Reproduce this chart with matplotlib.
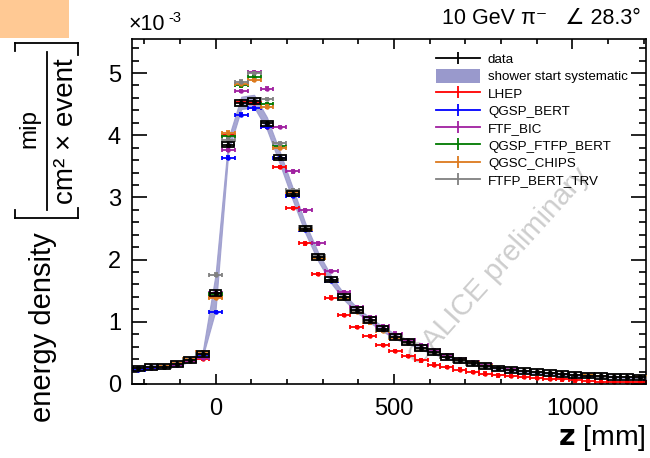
import numpy as np
import matplotlib
matplotlib.use("Agg")
import matplotlib.pyplot as plt
from matplotlib.lines import Line2D
from matplotlib.patches import Patch, Rectangle
from matplotlib.ticker import MultipleLocator

plt.rcParams['font.family'] = ['Liberation Sans', 'DejaVu Sans']

# longitudinal bins along z [mm]; bin index k, centre k*BIN_WIDTH
BIN_WIDTH = 36.0
bin_index = list(range(-6, 34))

# energy density in units of 1e-3 mip / (cm^2 x event)
data = [0.25, 0.27, 0.28, 0.32, 0.39, 0.48, 1.46, 3.85, 4.52, 4.55,
        4.19, 3.64, 3.06, 2.50, 2.04, 1.68, 1.40, 1.19, 1.03, 0.89,
        0.76, 0.68, 0.58, 0.51, 0.43, 0.38, 0.33, 0.29, 0.25, 0.225,
        0.21, 0.19, 0.175, 0.16, 0.145, 0.135, 0.125, 0.117, 0.11, 0.105]

syst_low = [0.22, 0.24, 0.25, 0.29, 0.36, 0.44, 1.18, 3.74, 4.42, 4.45,
            4.09, 3.54, 2.96, 2.42, 1.97, 1.62, 1.35, 1.15, 0.99, 0.85,
            0.72, 0.65, 0.55, 0.48, 0.41, 0.36, 0.31, 0.27, 0.235, 0.21,
            0.195, 0.175, 0.16, 0.145, 0.13, 0.12, 0.11, 0.103, 0.097, 0.092]
syst_high = [0.28, 0.30, 0.31, 0.35, 0.42, 0.52, 1.76, 3.95, 4.62, 4.65,
             4.29, 3.74, 3.16, 2.58, 2.11, 1.74, 1.45, 1.23, 1.07, 0.93,
             0.80, 0.71, 0.61, 0.54, 0.45, 0.40, 0.35, 0.31, 0.265, 0.24,
             0.225, 0.205, 0.19, 0.175, 0.16, 0.15, 0.14, 0.131, 0.123, 0.118]

lhep = [0.25, 0.26, 0.28, 0.31, 0.37, 0.40, 1.40, 4.00, 4.54, 4.52,
        4.14, 3.49, 2.83, 2.26, 1.77, 1.39, 1.11, 0.92, 0.77, 0.63,
        0.53, 0.45, 0.38, 0.31, 0.275, 0.23, 0.19, 0.165, 0.14, 0.125,
        0.115, 0.10, 0.085, 0.075, 0.057, 0.047, 0.04, 0.035, 0.03, 0.03]

qgsp_bert = [0.23, 0.26, 0.27, 0.31, 0.38, 0.46, 1.16, 3.64, 4.33, 4.43,
             4.14, 3.63, 3.02, 2.48, 2.02, 1.66, 1.38, 1.17, 1.00, 0.87,
             0.75, 0.66, 0.57, 0.50, 0.43, 0.38, 0.34, 0.29, 0.255, 0.23,
             0.21, 0.19, 0.175, 0.16, 0.145, 0.135, 0.125, 0.115, 0.108, 0.10]

ftf_bic = [0.25, 0.27, 0.28, 0.31, 0.37, 0.42, 1.46, 3.76, 4.71, 5.02,
           4.75, 4.13, 3.42, 2.79, 2.26, 1.82, 1.48, 1.24, 1.08, 0.93,
           0.81, 0.71, 0.62, 0.54, 0.46, 0.40, 0.35, 0.30, 0.26, 0.235,
           0.215, 0.195, 0.18, 0.165, 0.15, 0.14, 0.13, 0.12, 0.113, 0.108]

qgsp_ftfp_bert = [0.25, 0.27, 0.28, 0.32, 0.39, 0.49, 1.45, 3.98, 4.80, 4.93,
                  4.50, 3.82, 3.10, 2.50, 2.03, 1.67, 1.38, 1.17, 1.01, 0.87,
                  0.75, 0.66, 0.57, 0.50, 0.43, 0.37, 0.33, 0.29, 0.25, 0.225,
                  0.21, 0.19, 0.175, 0.16, 0.147, 0.137, 0.127, 0.118, 0.11, 0.105]

qgsc_chips = [0.26, 0.28, 0.29, 0.33, 0.40, 0.51, 1.38, 4.04, 4.83, 4.89,
              4.46, 3.80, 3.08, 2.50, 2.03, 1.68, 1.38, 1.16, 0.99, 0.86,
              0.74, 0.66, 0.57, 0.50, 0.43, 0.38, 0.33, 0.29, 0.255, 0.23,
              0.215, 0.195, 0.18, 0.165, 0.15, 0.14, 0.13, 0.12, 0.113, 0.108]

ftfp_bert_trv = [0.25, 0.27, 0.28, 0.32, 0.39, 0.49, 1.76, 3.93, 4.86, 5.00,
                 4.58, 3.87, 3.12, 2.52, 2.05, 1.68, 1.40, 1.18, 1.01, 0.87,
                 0.75, 0.66, 0.57, 0.50, 0.43, 0.37, 0.32, 0.28, 0.25, 0.22,
                 0.205, 0.185, 0.17, 0.155, 0.14, 0.13, 0.12, 0.113, 0.105, 0.10]

models = [
    ("LHEP", lhep, "#ff0000"),
    ("QGSP_BERT", qgsp_bert, "#0000ff"),
    ("FTF_BIC", ftf_bic, "#a020a0"),
    ("QGSP_FTFP_BERT", qgsp_ftfp_bert, "#007a00"),
    ("QGSC_CHIPS", qgsc_chips, "#dc7a1e"),
    ("FTFP_BERT_TRV", ftfp_bert_trv, "#808080"),
]

band_color = "#9999cc"
W, H = 650, 458


def fx(px):
    return px / W


def fy(py):
    return 1 - py / H


fig = plt.figure(figsize=(6.5, 4.58), dpi=100)
fig.patches.append(Rectangle((0, fy(38)), fx(69), 38 / H, transform=fig.transFigure,
                             facecolor="#ffc994", edgecolor="none", zorder=0))

ax = fig.add_axes([fx(132), fy(384), fx(646) - fx(132), (384 - 39) / H])

z = np.array(bin_index) * BIN_WIDTH
ax.fill_between(z, syst_low, syst_high, color=band_color, alpha=0.85, lw=0.8,
                edgecolor=band_color, zorder=1)

for i, (name, vals, col) in enumerate(models):
    ax.errorbar(z, vals, xerr=BIN_WIDTH / 2, yerr=0.02, fmt='o', ms=2.2,
                color=col, ecolor=col, elinewidth=1.3, capsize=1.7, capthick=1.3,
                zorder=2 + i)

# measured points with their boxes
box_half = 0.045
ax.bar(z, [2 * box_half] * len(z), bottom=np.array(data) - box_half,
       width=BIN_WIDTH * 0.92, fill=False, edgecolor='black', linewidth=1.3, zorder=10)
ax.errorbar(z, data, xerr=BIN_WIDTH / 2, yerr=box_half, fmt='o', ms=2.6,
            color='black', ecolor='black', elinewidth=1.3, capsize=0, zorder=11)

ax.set_xlim(-6.5 * BIN_WIDTH, 33.5 * BIN_WIDTH)
ax.set_ylim(0, 5.547)
ax.xaxis.set_major_locator(MultipleLocator(500))
ax.xaxis.set_minor_locator(MultipleLocator(100))
ax.yaxis.set_major_locator(MultipleLocator(1))
ax.yaxis.set_minor_locator(MultipleLocator(0.2))
ax.tick_params(which='both', direction='in', top=True, right=True, width=1.2,
               labelsize=17, colors='black')
ax.tick_params(axis='x', which='major', length=7.5, pad=10)
ax.tick_params(axis='x', which='minor', length=3.8)
ax.tick_params(axis='y', which='major', length=11, pad=8)
ax.tick_params(axis='y', which='minor', length=5)
for s in ax.spines.values():
    s.set_linewidth(1.2)

# watermark
ax.text(0.715, 0.34, "CALICE preliminary", transform=ax.transAxes, rotation=48,
        fontsize=21, color="#cdcdcd", ha='center', va='center', zorder=0,
        clip_on=True)

# legend
handles = [Line2D([], [], color='black', lw=1.3, marker='|', ms=9, mew=1.3),
           Patch(facecolor=band_color, edgecolor='none')]
labels = ["data", "shower start systematic"]
for name, vals, col in models:
    handles.append(Line2D([], [], color=col, lw=1.3, marker='|', ms=9, mew=1.3))
    labels.append(name)
ax.legend(handles, labels, loc='upper left', bbox_to_anchor=(fx(436), fy(52)),
          bbox_transform=fig.transFigure, frameon=False, fontsize=9.6,
          handlelength=3.3, handleheight=1.15, handletextpad=0.6,
          labelspacing=0.24, borderpad=0, borderaxespad=0)

# axis titles
fig.text(fx(646), fy(438), r"$\mathbf{z}$ [mm]", ha='right', va='center', fontsize=20.5)
fig.text(fx(129), fy(25), "×10", ha='left', va='center', fontsize=15.5)
fig.text(fx(168), fy(18), "-3", ha='left', va='center', fontsize=10.5)
fig.text(fx(641), fy(19), "10 GeV π⁻   ∠ 28.3°", ha='right', va='center', fontsize=15.5)

fig.text(fx(43), fy(327), "energy density", rotation=90, ha='center', va='center', fontsize=21)
fig.text(fx(29), fy(129), "mip", rotation=90, ha='center', va='center', fontsize=17.5)
fig.text(fx(66), fy(131), "cm² × event", rotation=90, ha='center', va='center', fontsize=20)

bracket = dict(color='black', lw=1.3, transform=fig.transFigure)
segments = [((47, 52), (47, 210)),
            ((15, 43), (78, 43)), ((15, 43), (15, 51)), ((78, 43), (78, 55)),
            ((15, 218), (78, 218)), ((15, 218), (15, 210)), ((78, 218), (78, 208))]
for (x0, y0), (x1, y1) in segments:
    fig.lines.append(Line2D([fx(x0), fx(x1)], [fy(y0), fy(y1)], **bracket))

fig.savefig("out.png", dpi=100)
